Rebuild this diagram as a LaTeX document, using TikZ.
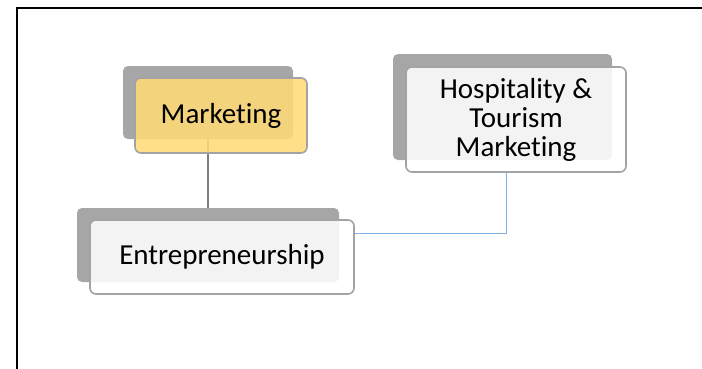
\documentclass[tikz,border=0pt]{standalone}
\usepackage{fontspec}
\setmainfont{Carlito}[Ligatures={NoCommon,NoRare,NoContextual}]
\usetikzlibrary{backgrounds}
\definecolor{shadowgray}{HTML}{A6A6A6}
\definecolor{edgegray}{HTML}{A3A3A3}
\definecolor{mkyellow}{HTML}{FFDA75}
\definecolor{linkblue}{HTML}{7EB2E4}
\definecolor{linkgray}{HTML}{7F7F7F}
\begin{document}
\begin{tikzpicture}[x=1pt,y=-1pt,
  shadowbox/.style={fill=shadowgray, rounded corners=5pt, inner sep=0pt, draw=none},
  frontbox/.style={draw=edgegray, line width=1.6pt, rounded corners=6pt, fill=white,
    fill opacity=0.87, text opacity=1, inner sep=0pt,
    font=\fontsize{29}{29}\selectfont, align=center},
  graylink/.style={draw=linkgray, line width=1.6pt},
  bluelink/.style={draw=linkblue, line width=1.3pt},
]
\useasboundingbox (0,0) rectangle (702,368);
% frame
\draw[line width=2pt] (712,8) -- (17,8) -- (17,378);
% shadows
\node[shadowbox, minimum width=170pt, minimum height=73pt] (ms) at (208,102.5) {};
\node[shadowbox, minimum width=219pt, minimum height=106pt] (hs) at (502.5,107) {};
\node[shadowbox, minimum width=262pt, minimum height=74pt] (es) at (208,245) {};
% front boxes
\node[frontbox, fill=mkyellow, minimum width=172pt, minimum height=75pt] (mf) at (221,115.5) {Marketing};
\node[frontbox, minimum width=220pt, minimum height=105pt] (hf) at (516,119.5) {Hospitality \&\\Tourism\\Marketing};
\node[frontbox, minimum width=264pt, minimum height=74pt] (ef) at (222,257) {\raisebox{3pt}{Entrepreneurship}};
% connectors
\coordinate (bend) at (506.7,233.3);
\begin{scope}[on background layer]
  \draw[graylink] (ms.center) -- (es.center);
  \draw[bluelink] (hf.south -| bend) -- (bend) -- (bend -| ef.east);
\end{scope}
\end{tikzpicture}
\end{document}
